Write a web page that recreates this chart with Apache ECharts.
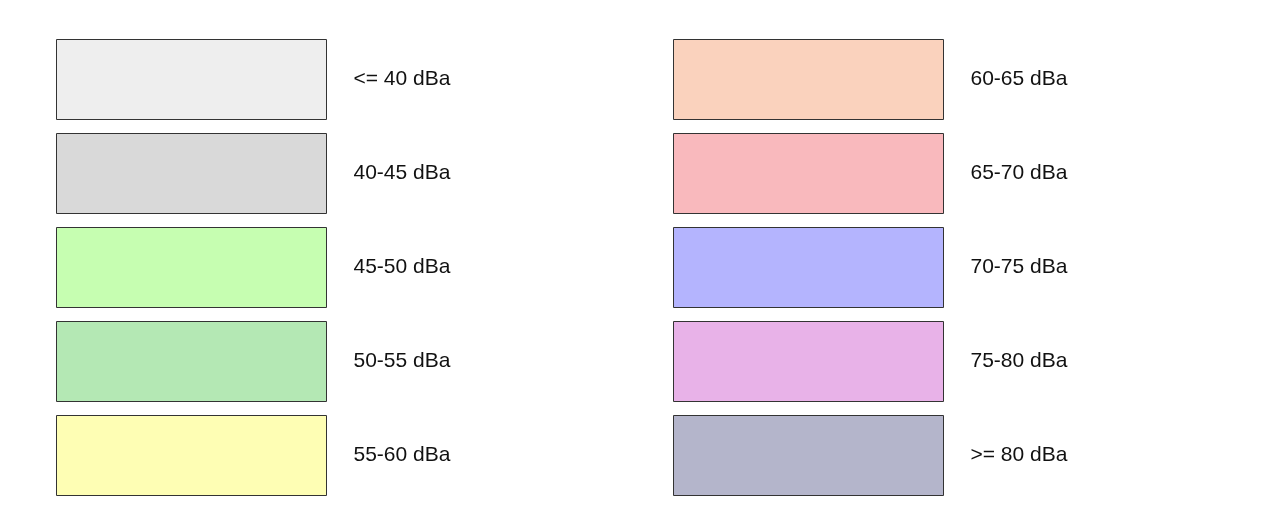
<!DOCTYPE html>
<html>
<head>
<meta charset="utf-8">
<script src="https://cdn.jsdelivr.net/npm/echarts@6/dist/echarts.min.js"></script>
<style>
  html, body { margin: 0; padding: 0; background: #fff; }
  #chart { width: 1261px; height: 509px; }
</style>
</head>
<body>
<div id="chart"></div>
<script>
// noise bands, filled column by column (5 rows per column)
const labels = ['<= 40 dBa', '40-45 dBa', '45-50 dBa', '50-55 dBa', '55-60 dBa',
  '60-65 dBa', '65-70 dBa', '70-75 dBa', '75-80 dBa', '>= 80 dBa']
const colors = ['#eeeeee', '#d9d9d9', '#c6feb1', '#b4e8b4', '#fefeb4',
  '#fad2bd', '#f9b9bd', '#b4b4fe', '#e8b2e8', '#b4b5cb']
const rowsPerColumn = 5

const data = labels.map((name, i) => ({
  name,
  value: [Math.floor(i / rowsPerColumn), i % rowsPerColumn],
  itemStyle: { color: colors[i] }
}))

const BOX_W = 0.4376   // in column units
const BOX_H = 0.8466   // in row units

const chart = echarts.init(document.getElementById('chart'), null, { renderer: 'canvas' })

chart.setOption({
  animation: false,
  backgroundColor: '#fff',
  grid: { left: 0, right: 0, top: 39, height: 472.5 },
  // one column = 617px, first column starts at 56px
  xAxis: { type: 'value', min: -56 / 617, max: 1205 / 617, show: false },
  yAxis: { type: 'value', min: 0, max: 5, inverse: true, show: false },
  series: [{
    type: 'custom',
    data,
    renderItem: (params, api) => {
      const p = api.coord([api.value(0), api.value(1)])
      const s = api.size([BOX_W, BOX_H])
      const x = Math.round(p[0]) + 0.5
      const y = Math.round(p[1]) + 0.5
      const w = Math.round(s[0])
      const h = Math.round(s[1])
      return {
        type: 'group',
        children: [
          {
            type: 'rect',
            shape: { x, y, width: w, height: h },
            style: { fill: api.visual('color'), stroke: '#333', lineWidth: 1 }
          },
          {
            type: 'text',
            x: x + w + 27,
            y: y + h / 2,
            style: {
              text: labels[params.dataIndex],
              fill: '#111',
              font: '21px Arial, "Liberation Sans", sans-serif',
              verticalAlign: 'middle',
              align: 'left'
            }
          }
        ]
      }
    }
  }]
})
</script>
</body>
</html>
